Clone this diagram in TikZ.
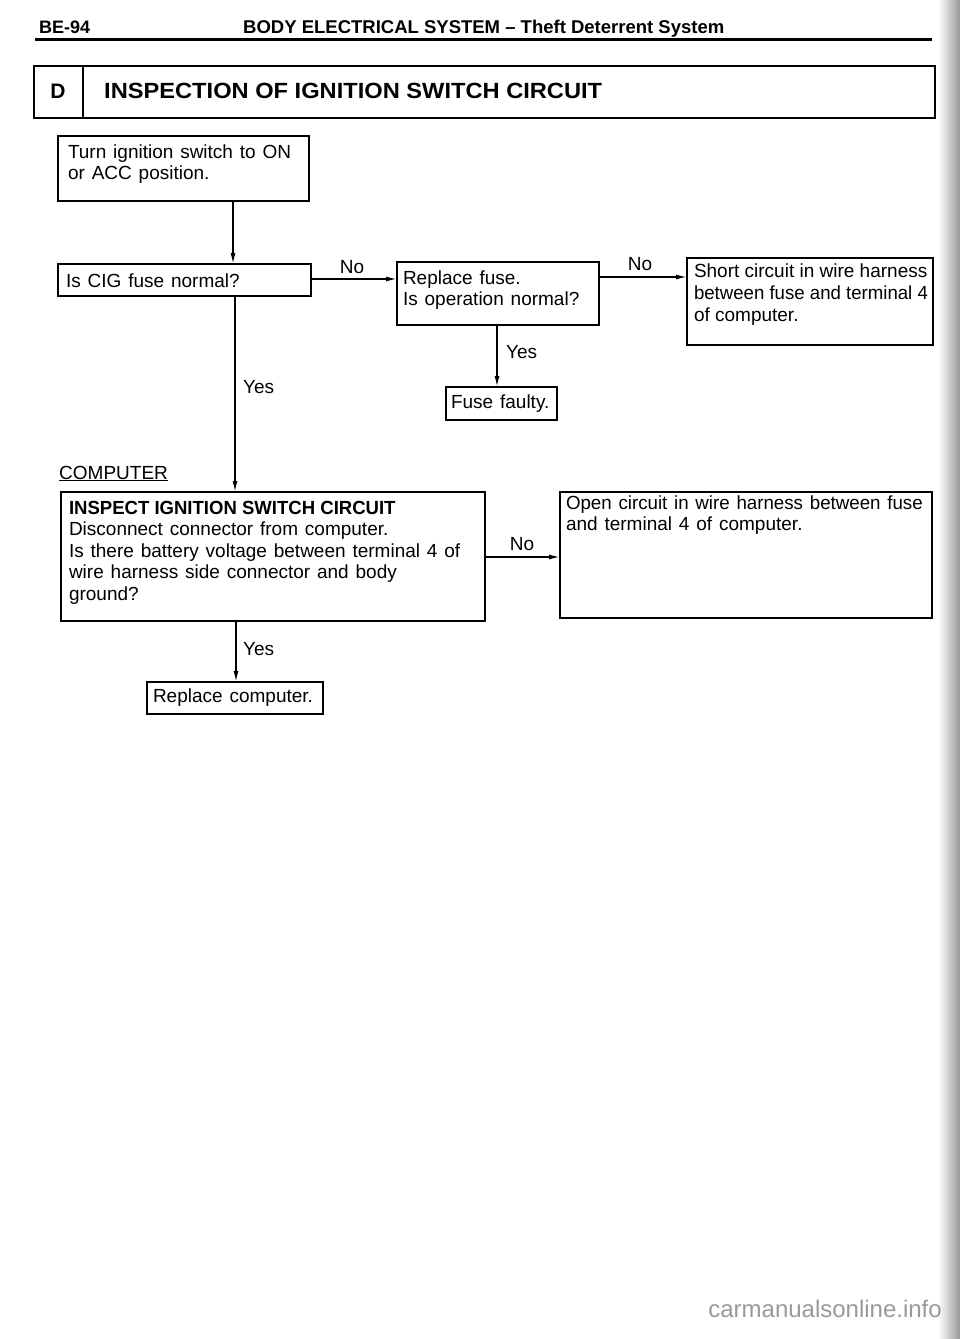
\documentclass[tikz,border=0pt]{standalone}
\usepackage{fontspec}
\setmainfont{Liberation Sans}
\newfontfamily\bodyf{Liberation Sans}[WordSpace=1.3]
\usetikzlibrary{arrows.meta}
\newcommand{\bxt}[5]{\parbox[c][#2pt][t]{#1pt}{\leftskip=#4pt\rightskip=0pt plus 1fil\parindent=0pt\parfillskip=0pt plus 1fil\rule{0pt}{#3pt}#5}}
\tikzset{
  boxnode/.style={draw, line width=1.8pt, inner sep=0pt, outer sep=0pt, anchor=north west, font=\bodyf\fontsize{19}{21.5}\selectfont},
  lbl/.style={inner sep=0pt, font=\fontsize{19}{21.5}\selectfont},
  conn/.style={line width=1.5pt, -{Latex[length=11pt,width=5pt]}},
}
\begin{document}
\begin{tikzpicture}[x=1pt,y=-1pt]
\fill[white] (0,0) rectangle (960,1339);
\useasboundingbox (0,0) rectangle (960,1339);
\shade[left color=white, right color=black!40] (938,0) rectangle (960,1339);

% header
\node[anchor=base west, inner sep=0pt, font=\bfseries\fontsize{18}{20}\selectfont] (pg) at (39,33) {BE-94};
\node[anchor=base west, inner sep=0pt, font=\bfseries\fontsize{18.5}{20}\selectfont] (hd) at (243,33) {BODY ELECTRICAL SYSTEM -- Theft Deterrent System};
\coordinate (rl) at (35,39);
\coordinate (rr) at (932,39);
\draw[line width=3pt] (rl) -- (rr);

% title box
\node[draw, line width=2pt, anchor=north west, inner sep=0pt, minimum width=901pt, minimum height=52pt] (dbox) at (33,65) {};
\draw[line width=1.8pt] ([xshift=50pt]dbox.north west) -- ([xshift=50pt]dbox.south west);
\node[anchor=base, inner sep=0pt, font=\bfseries\fontsize{21}{23}\selectfont] (dl) at (58,98) {D};
\node[anchor=base west, inner sep=0pt, font=\bfseries\fontsize{22}{24}\selectfont] (tt) at (104,98) {\scalebox{1.075}[1]{INSPECTION OF IGNITION SWITCH CIRCUIT}};

% boxes
\node[boxnode] (b1) at (58,136) {\bxt{251}{65}{22}{10}{\mbox{Turn ignition switch to ON}\\\mbox{or ACC position.}}};
\node[boxnode] (b2) at (58,264) {\bxt{253}{32}{23}{8}{\mbox{Is CIG fuse normal?}}};
\node[boxnode] (rep) at (397,262) {\bxt{202}{63}{22}{6}{\mbox{Replace fuse.}\\\mbox{Is operation normal?}}};
\node[boxnode, font=\rmfamily\fontsize{19}{22}\selectfont] (sh) at (687,258) {\bxt{246}{87}{19}{7}{\mbox{Short circuit in wire harness}\\\mbox{\scalebox{0.98}[1]{between fuse and terminal 4}}\\\mbox{of computer.}}};
\node[boxnode] (ff) at (446,387) {\bxt{111}{33}{21}{5}{\mbox{Fuse faulty.}}};
\node[anchor=base west, inner sep=0pt, font=\fontsize{19}{21.5}\selectfont] (comp) at (59,479) {\underline{COMPUTER}};
\node[boxnode] (insp) at (61,492) {\bxt{424}{129}{22}{8}{\mbox{\rmfamily\bfseries\scalebox{0.976}[1]{INSPECT IGNITION SWITCH CIRCUIT}}\\\mbox{Disconnect connector from computer.}\\\mbox{Is there battery voltage between terminal 4 of}\\\mbox{wire harness side connector and body}\\\mbox{ground?}}};
\node[boxnode] (op) at (560,492) {\bxt{372}{126}{17}{6}{\mbox{\scalebox{0.985}[1]{Open circuit in wire harness between fuse}}\\\mbox{and terminal 4 of computer.}}};
\node[boxnode] (rc) at (147,682) {\bxt{176}{32}{20}{6}{\mbox{Replace computer.}}};

% connector positions
\coordinate (xa) at (233,0);
\coordinate (xb) at (235,0);
\coordinate (xc) at (236,0);
\coordinate (xd) at (497,0);
\coordinate (ya) at (0,279);
\coordinate (yb) at (0,277);
\coordinate (yc) at (0,557);

\draw[conn] (b1.south -| xa) -- (b2.north -| xa);
\draw[conn] (b2.south -| xb) -- (insp.north -| xb);
\draw[conn] (insp.south -| xc) -- (rc.north -| xc);
\draw[conn] (b2.east |- ya) -- (rep.west |- ya);
\draw[conn] (rep.east |- yb) -- (sh.west |- yb);
\draw[conn] (rep.south -| xd) -- (ff.north -| xd);
\draw[conn] (insp.east |- yc) -- (op.west |- yc);

% labels
\node[lbl, anchor=base] (n1) at (352,273) {No};
\node[lbl, anchor=base] (n2) at (640,270) {No};
\node[lbl, anchor=base] (n3) at (522,550) {No};
\node[lbl, anchor=base west] (y1) at (243,393) {Yes};
\node[lbl, anchor=base west] (y2) at (506,358) {Yes};
\node[lbl, anchor=base west] (y3) at (243,655) {Yes};

% watermark
\node[anchor=base east, inner sep=0pt, text=black!40, font=\fontsize{24}{26}\selectfont] (wm) at (942,1317) {carmanualsonline.info};
\end{tikzpicture}
\end{document}
